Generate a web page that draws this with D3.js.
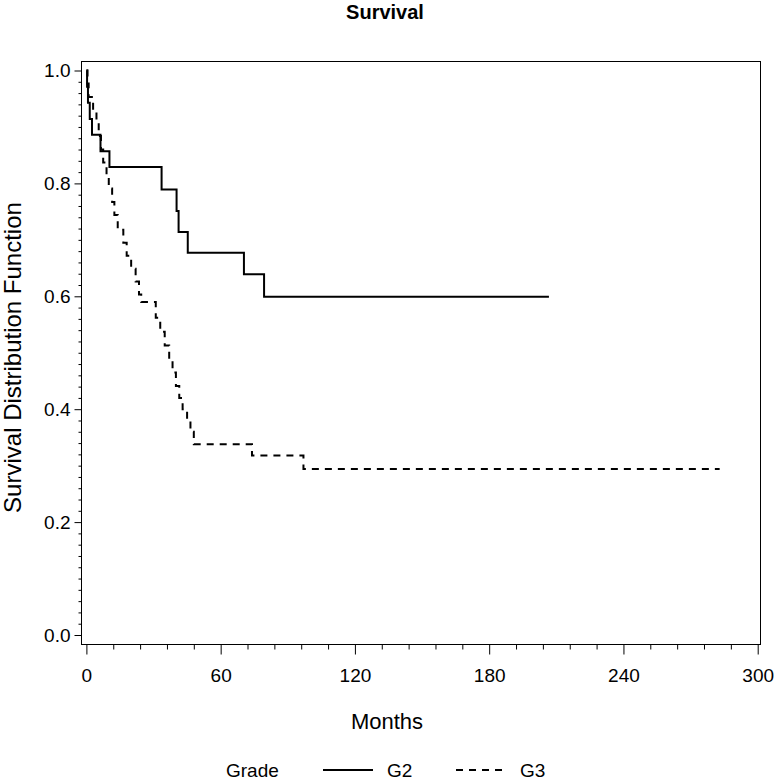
<!DOCTYPE html>
<html>
<head>
<meta charset="utf-8">
<script src="https://cdn.jsdelivr.net/npm/d3@7/dist/d3.min.js"></script>
<style>
  html, body { margin: 0; padding: 0; background: #fff; }
  text { font-family: "Liberation Sans", Arial, sans-serif; fill: #000; }
</style>
</head>
<body>
<svg id="chart" width="774" height="780"></svg>
<script>
// ---- data ----
const title = "Survival";
const xLabel = "Months";
const yLabel = "Survival Distribution Function";
const legendTitle = "Grade";
const seriesNames = ["G2", "G3"];

const xTicks = [0, 60, 120, 180, 240, 300];
const yTicks = [0.0, 0.2, 0.4, 0.6, 0.8, 1.0];

// G2: event times (months) and survival after each step
const g2Times = [0, 0.3, 0.7, 1.5, 2.5, 6.3, 10.3, 33.6, 40.3, 41.2, 45.3, 70.4, 79.4];
const g2Surv  = [1.0, 0.971, 0.943, 0.914, 0.886, 0.857, 0.829, 0.789, 0.751, 0.714, 0.677, 0.639, 0.599];
const g2End = 206.7;

// G3
const g3Times = [0, 0.5, 1, 3, 4.5, 5.5, 6.5, 7.5, 9, 10, 11.5, 12.5, 14, 16.5, 18, 20, 22, 23.5, 24.5,
                 31, 33, 35, 37, 38.5, 40, 41.5, 43, 45, 46.5, 48, 74, 97];
const g3Surv  = [1.0, 0.977, 0.953, 0.930, 0.907, 0.884, 0.860, 0.837, 0.814, 0.791, 0.767, 0.744, 0.718,
                 0.695, 0.672, 0.649, 0.626, 0.603, 0.590, 0.562, 0.537, 0.513, 0.489, 0.465, 0.441,
                 0.420, 0.400, 0.380, 0.360, 0.338, 0.318, 0.294];
const g3End = 283;

// ---- layout ----
const svg = d3.select("#chart");
const frame = {left: 81, top: 61, right: 760, bottom: 644};
const x = d3.scaleLinear().domain([0, 300]).range([86.4, 757.7]);
const y = d3.scaleLinear().domain([0, 1]).range([635, 70.5]);
const fontTick = 19;

// frame
svg.append("rect")
  .attr("x", frame.left + 0.5).attr("y", frame.top + 0.5)
  .attr("width", frame.right - frame.left).attr("height", frame.bottom - frame.top)
  .attr("fill", "none").attr("stroke", "#000").attr("stroke-width", 1);

// x axis
const xMinor = d3.range(0, 301, 12).filter(v => v % 60 !== 0);
const xAxis = d3.axisBottom(x).tickValues(xTicks).tickFormat(d3.format("d")).tickSize(10).tickSizeOuter(0).tickPadding(14);
const gx = svg.append("g").attr("transform", `translate(0,${frame.bottom + 0.5})`).call(xAxis);
gx.select(".domain").remove();
gx.selectAll("text").attr("font-size", fontTick).attr("font-family", "Liberation Sans, Arial, sans-serif");
const gxm = svg.append("g").attr("transform", `translate(0,${frame.bottom + 0.5})`)
  .call(d3.axisBottom(x).tickValues(xMinor).tickSize(5).tickFormat(""));
gxm.select(".domain").remove();

// y axis
const yMinor = d3.range(0, 51).map(i => i / 50).filter(v => Math.round(v * 50) % 10 !== 0);
const yAxis = d3.axisLeft(y).tickValues(yTicks).tickFormat(d3.format(".1f")).tickSize(7).tickSizeOuter(0).tickPadding(4);
const gy = svg.append("g").attr("transform", `translate(${frame.left + 0.5},0)`).call(yAxis);
gy.select(".domain").remove();
gy.selectAll("text").attr("font-size", fontTick).attr("font-family", "Liberation Sans, Arial, sans-serif");
const gym = svg.append("g").attr("transform", `translate(${frame.left + 0.5},0)`)
  .call(d3.axisLeft(y).tickValues(yMinor).tickSize(3).tickFormat(""));
gym.select(".domain").remove();
svg.selectAll(".tick line").attr("stroke", "#000");

// step curves
function stepPoints(times, surv, end) {
  const pts = times.map((t, i) => [t, surv[i]]);
  pts.push([end, surv[surv.length - 1]]);
  return pts;
}
const line = d3.line().x(d => x(d[0])).y(d => y(d[1])).curve(d3.curveStepAfter);

svg.append("path").datum(stepPoints(g2Times, g2Surv, g2End))
  .attr("d", line).attr("fill", "none").attr("stroke", "#000").attr("stroke-width", 2);
svg.append("path").datum(stepPoints(g3Times, g3Surv, g3End))
  .attr("d", line).attr("fill", "none").attr("stroke", "#000").attr("stroke-width", 2)
  .attr("stroke-dasharray", "7,6");

// title
svg.append("text").attr("x", 385).attr("y", 19).attr("text-anchor", "middle")
  .attr("font-size", 20).attr("font-weight", "bold").text(title);

// axis labels
svg.append("text").attr("x", 387).attr("y", 729).attr("text-anchor", "middle")
  .attr("font-size", 22).text(xLabel);
svg.append("text").attr("transform", `translate(21,${(frame.top + frame.bottom) / 2 + 5}) rotate(-90)`)
  .attr("text-anchor", "middle").attr("font-size", 24).text(yLabel);

// legend
const lg = svg.append("g");
const ly = 770;
lg.append("text").attr("x", 226).attr("y", ly + 7).attr("font-size", 19).text(legendTitle);
const items = [{name: seriesNames[0], x0: 323, dash: null}, {name: seriesNames[1], x0: 456, dash: "7,6"}];
items.forEach(it => {
  lg.append("line").attr("x1", it.x0).attr("x2", it.x0 + 50).attr("y1", ly).attr("y2", ly)
    .attr("stroke", "#000").attr("stroke-width", 2).attr("stroke-dasharray", it.dash);
  lg.append("text").attr("x", it.x0 + 64).attr("y", ly + 7).attr("font-size", 19).text(it.name);
});
</script>
</body>
</html>
